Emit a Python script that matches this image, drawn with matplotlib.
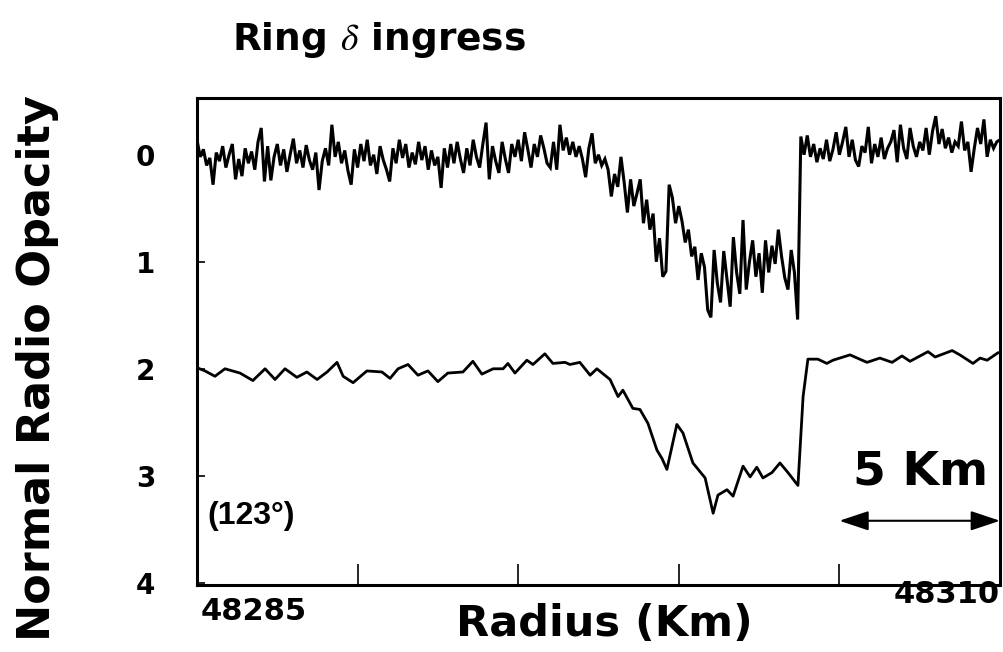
import numpy as np
import matplotlib
matplotlib.use("Agg")
import matplotlib.pyplot as plt
from matplotlib.ticker import FixedLocator

plt.rcParams['font.family'] = 'DejaVu Sans'
plt.rcParams['mathtext.fontset'] = 'stix'

r_start = 48285.0
r_step = 0.1
top_opacity = [
    -0.14, 0.02, -0.05, 0.10, 0.03, 0.28, -0.02, 0.06, -0.08, 0.12,
    0.00, -0.10, 0.23, 0.04, 0.20, -0.06, 0.08, -0.03, 0.14, -0.12,
    -0.25, 0.25, -0.08, 0.24, 0.02, -0.10, 0.10, -0.05, 0.16, 0.00,
    -0.15, 0.08, -0.04, 0.12, -0.09, 0.05, 0.14, -0.02, 0.33, 0.06,
    -0.06, 0.10, -0.28, 0.02, -0.12, 0.08, -0.04, 0.15, 0.28, -0.05,
    0.12, -0.10, 0.06, -0.14, 0.10, 0.00, 0.18, -0.08, 0.05, 0.14,
    0.25, -0.06, 0.08, -0.14, 0.03, -0.10, 0.12, -0.02, 0.09, -0.12,
    0.05, -0.08, 0.14, -0.04, 0.10, 0.02, 0.31, -0.06, 0.12, -0.10,
    0.08, -0.12, 0.04, 0.17, -0.06, 0.10, -0.14, 0.02, 0.12, -0.10,
    -0.30, 0.23, -0.08, 0.06, 0.17, -0.12, 0.04, 0.17, -0.10, 0.02,
    -0.14, 0.06, -0.21, -0.05, 0.12, -0.10, 0.02, -0.18, -0.06, 0.08,
    0.12, -0.12, 0.14, -0.28, -0.04, -0.16, 0.00, -0.12, 0.02, -0.08,
    0.04, 0.21, -0.06, -0.20, 0.08, 0.00, 0.10, 0.04, 0.14, 0.39,
    0.18, 0.30, 0.02, 0.26, 0.54, 0.23, 0.48, 0.36, 0.23, 0.64,
    0.42, 0.70, 0.55, 1.00, 0.78, 1.14, 1.09, 0.28, 0.40, 0.64,
    0.48, 0.62, 0.82, 0.70, 0.95, 0.86, 1.17, 0.92, 1.05, 1.45,
    1.52, 0.89, 1.20, 1.38, 0.90, 1.16, 1.42, 0.77, 1.10, 1.30,
    0.61, 1.26, 1.00, 0.80, 1.14, 0.92, 1.29, 0.80, 1.10, 0.85,
    1.02, 0.70, 0.95, 1.15, 1.26, 0.89, 1.10, 1.54, -0.17, 0.00,
    -0.18, 0.02, -0.10, 0.07, -0.06, 0.04, -0.14, 0.06, -0.05, -0.21,
    0.00, -0.12, -0.26, 0.02, -0.14, 0.05, 0.11, -0.08, -0.02, -0.26,
    0.08, -0.10, 0.02, -0.16, 0.04, -0.06, -0.12, -0.23, 0.07, -0.28,
    -0.06, 0.04, -0.25, -0.08, 0.02, -0.12, -0.04, -0.25, 0.00, -0.22,
    -0.36, -0.10, -0.24, -0.06, -0.16, -0.02, -0.12, -0.08, -0.31, -0.04,
    -0.12, 0.16, -0.06, -0.25, -0.10, -0.33, 0.02, -0.14, -0.06, -0.12,
    -0.14,
]
radius_top = r_start + r_step * np.arange(len(top_opacity))

# smoothed trace (offset by +2), km from 48285
smooth_offset_km = [
    0.00, 0.25, 0.56, 0.87, 1.34, 1.74, 2.12, 2.43, 2.74, 3.11,
    3.42, 3.74, 4.05, 4.36, 4.55, 4.86, 5.29, 5.76, 6.01, 6.26,
    6.57, 6.88, 7.19, 7.50, 7.81, 8.28, 8.59, 8.87, 9.22, 9.53,
    9.68, 9.90, 10.27, 10.46, 10.83, 11.08, 11.46, 11.61, 11.92, 12.24,
    12.45, 12.86, 13.11, 13.26, 13.57, 13.79, 14.04, 14.32, 14.48, 14.63,
    14.94, 15.13, 15.44, 15.82, 16.07, 16.22, 16.50, 16.69, 17.00, 17.22,
    17.43, 17.62, 17.90, 18.15, 18.40, 18.71, 18.87, 19.02, 19.33, 19.61,
    19.80, 20.33, 20.86, 21.26, 21.64, 21.95, 22.20, 22.76, 22.98, 23.51,
    23.75, 24.16, 24.38, 24.60, 24.94, 25.00,
]
smooth_opacity = [
    1.99, 2.02, 2.07, 2.00, 2.04, 2.11, 2.00, 2.10, 2.00, 2.08,
    2.03, 2.10, 2.03, 1.94, 2.07, 2.13, 2.02, 2.03, 2.09, 2.00,
    1.96, 2.06, 2.02, 2.12, 2.04, 2.03, 1.93, 2.05, 2.00, 2.00,
    1.95, 2.04, 1.92, 1.96, 1.86, 1.95, 1.94, 1.96, 1.94, 2.06,
    2.00, 2.10, 2.26, 2.20, 2.37, 2.38, 2.51, 2.76, 2.84, 2.94,
    2.52, 2.60, 2.88, 3.02, 3.35, 3.18, 3.13, 3.19, 2.91, 3.01,
    2.92, 3.02, 2.97, 2.88, 2.97, 3.09, 2.26, 1.91, 1.91, 1.95,
    1.92, 1.87, 1.94, 1.90, 1.94, 1.88, 1.93, 1.84, 1.89, 1.83,
    1.87, 1.95, 1.90, 1.92, 1.85, 1.85,
]
radius_smooth = r_start + np.array(smooth_offset_km)

y_ticks = [0, 1, 2, 3, 4]
x_inner_ticks = [48290, 48295, 48300, 48305]

fig = plt.figure(figsize=(10.04, 6.52), dpi=100)
ax = fig.add_axes([0.1962, 0.1028, 0.7998, 0.7469])

ax.plot(radius_top, top_opacity, color='black', lw=2.2, solid_joinstyle='miter')
ax.plot(radius_smooth, smooth_opacity, color='black', lw=2.0)

ax.set_xlim(48285, 48310)
ax.set_ylim(4.02, -0.53)

for s in ax.spines.values():
    s.set_linewidth(2.2)

ax.set_xticks(x_inner_ticks)
ax.set_xticklabels([])
ax.tick_params(axis='x', direction='in', length=15, width=1.2, top=False)

ax.set_yticks(y_ticks)
ax.set_yticklabels([str(t) for t in y_ticks], fontsize=20, fontweight='bold')
ax.tick_params(axis='y', which='major', direction='in', length=6, width=1.2, pad=30)
ax.yaxis.set_minor_locator(FixedLocator([1, 3]))
ax.tick_params(axis='y', which='minor', left=False, right=True,
               direction='in', length=7, width=1.2)

# radius labels only at the ends
ax.text(48285.1, -0.025, '48285', transform=ax.get_xaxis_transform(),
        ha='left', va='top', fontsize=22, fontweight='bold')
ax.text(48310, 0.01, '48310', transform=ax.get_xaxis_transform(),
        ha='right', va='top', fontsize=22, fontweight='bold')

fig.text(604 / 1004, 1 - 636 / 652, 'Radius (Km)', ha='center', va='baseline',
         fontsize=31, fontweight='bold')
fig.text(38 / 1004, 1 - 368 / 652, 'Normal Radio Opacity', rotation=90,
         ha='center', va='center', fontsize=32, fontweight='bold')
fig.text(232 / 1004, 1 - 50 / 652, r'Ring $\delta$ ingress', ha='left',
         va='baseline', fontsize=27, fontweight='bold')

ax.text(48286.68, 3.38, '(123°)', ha='center', va='center', fontsize=23,
        fontweight='bold', family=['Liberation Sans Narrow', 'Liberation Sans'])
ax.text(48305.42, 3.08, '5 Km', ha='left', va='baseline', fontsize=34,
        fontweight='bold')
ax.annotate('', xy=(48305, 3.42), xytext=(48310, 3.42),
            arrowprops=dict(arrowstyle='<|-|>,head_length=0.9,head_width=0.3',
                            lw=1.5, color='black', mutation_scale=20,
                            shrinkA=0, shrinkB=0))

fig.savefig('out.png', dpi=100)
